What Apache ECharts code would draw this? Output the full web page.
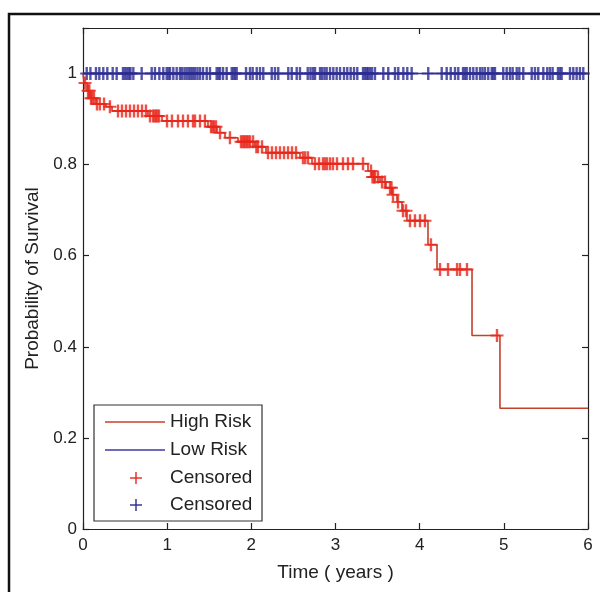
<!DOCTYPE html>
<html><head><meta charset="utf-8">
<script src="https://cdn.jsdelivr.net/npm/echarts@6/dist/echarts.min.js"></script>
<style>html,body{margin:0;padding:0;background:#fff}#c{width:600px;height:592px}</style>
</head><body><div id="c"></div><script>
// High-risk Kaplan-Meier step times and survival after each step
const highTimes = [0, 0.012, 0.048, 0.083, 0.154, 0.273, 0.345, 0.772, 0.939, 1.485, 1.592, 1.687, 1.842, 2.043, 2.174, 2.578, 2.721, 3.386, 3.434, 3.529, 3.600, 3.671, 3.731, 3.790, 3.849, 4.099, 4.206, 4.622, 4.954];
const highSurv  = [1.0, 0.979, 0.962, 0.946, 0.933, 0.927, 0.918, 0.907, 0.896, 0.883, 0.870, 0.859, 0.850, 0.839, 0.826, 0.815, 0.802, 0.786, 0.773, 0.762, 0.749, 0.734, 0.718, 0.699, 0.677, 0.624, 0.570, 0.425, 0.265];
const highEndTime = 6;
// Censored times
const highCensorTimes = [0.024, 0.06, 0.075, 0.095, 0.11, 0.13, 0.166, 0.20, 0.25, 0.32, 0.416, 0.463, 0.511, 0.558, 0.606, 0.653, 0.701, 0.748, 0.796, 0.832, 0.85, 0.867, 0.885, 0.903, 0.998, 1.057, 1.129, 1.188, 1.247, 1.307, 1.331, 1.39, 1.449, 1.521, 1.54, 1.556, 1.58, 1.628, 1.746, 1.877, 1.895, 1.913, 1.93, 1.948, 1.966, 1.984, 2.02, 2.06, 2.079, 2.127, 2.198, 2.245, 2.293, 2.34, 2.388, 2.436, 2.483, 2.531, 2.614, 2.64, 2.673, 2.756, 2.804, 2.851, 2.875, 2.899, 2.935, 2.97, 3.018, 3.089, 3.148, 3.208, 3.327, 3.422, 3.44, 3.457, 3.47, 3.505, 3.553, 3.588, 3.648, 3.665, 3.683, 3.743, 3.802, 3.838, 3.885, 3.944, 4.004, 4.063, 4.134, 4.242, 4.337, 4.444, 4.479, 4.562, 4.919];
const lowTimes = [0, 6];
const lowSurv = [1, 1];
const lowCensorTimes = [0.044, 0.088, 0.154, 0.194, 0.241, 0.289, 0.353, 0.400, 0.475, 0.499, 0.523, 0.547, 0.564, 0.598, 0.697, 0.816, 0.855, 0.907, 0.954, 0.994, 1.016, 1.034, 1.073, 1.113, 1.152, 1.176, 1.206, 1.232, 1.259, 1.283, 1.307, 1.331, 1.360, 1.390, 1.426, 1.470, 1.509, 1.588, 1.610, 1.628, 1.664, 1.707, 1.767, 1.788, 1.806, 1.826, 1.937, 1.984, 2.016, 2.064, 2.103, 2.142, 2.242, 2.281, 2.320, 2.439, 2.480, 2.539, 2.578, 2.670, 2.703, 2.733, 2.757, 2.816, 2.840, 2.869, 2.895, 2.935, 2.974, 3.014, 3.054, 3.101, 3.140, 3.180, 3.220, 3.259, 3.327, 3.350, 3.370, 3.386, 3.410, 3.434, 3.469, 3.568, 3.627, 3.707, 3.746, 3.806, 3.853, 3.905, 4.102, 4.262, 4.321, 4.369, 4.420, 4.459, 4.515, 4.538, 4.559, 4.598, 4.637, 4.677, 4.717, 4.746, 4.776, 4.815, 4.856, 4.875, 4.895, 4.993, 5.034, 5.073, 5.105, 5.153, 5.184, 5.231, 5.331, 5.370, 5.409, 5.469, 5.516, 5.548, 5.580, 5.643, 5.667, 5.687, 5.786, 5.825, 5.865, 5.904, 5.944];
const xTicks = [0, 1, 2, 3, 4, 5, 6];
const yTicks = [0, 0.2, 0.4, 0.6, 0.8, 1];
const legendNames = ['High Risk', 'Low Risk', 'Censored', 'Censored'];

function survAt(times, surv, t) {
  let s = surv[0];
  for (let i = 0; i < times.length; i++) if (times[i] <= t) s = surv[i];
  return s;
}
const highLine = highTimes.map((t, i) => [t, highSurv[i]]);
highLine.push([highEndTime, highSurv[highSurv.length - 1]]);
const lowLine = lowTimes.map((t, i) => [t, lowSurv[i]]);
const highCens = highCensorTimes.map(t => [t, survAt(highTimes, highSurv, t)]);
const lowCens = lowCensorTimes.map(t => [t, survAt(lowTimes, lowSurv, t)]);

const PLUS = 'path://M-1.2,-6.5 L1.2,-6.5 L1.2,-1 L6.5,-1 L6.5,1 L1.2,1 L1.2,6.5 L-1.2,6.5 L-1.2,1 L-6.5,1 L-6.5,-1 L-1.2,-1 Z';
const RED_LINE = '#c4402b', RED_MARK = '#e8261a', BLUE_LINE = '#3a3aa0', BLUE_MARK = '#2a2a92';
const AX = '#222';
const FONT = 'Liberation Sans, Arial, sans-serif';

const chart = echarts.init(document.getElementById('c'));
function axisCommon() {
  return {
    axisLine: { show: true, onZero: false, lineStyle: { color: AX, width: 1.2 } },
    axisTick: { show: true, inside: true, length: 6, lineStyle: { color: AX, width: 1.2 } },
    splitLine: { show: false }
  };
}
const legendX = 94, legendY = 405, legendW = 168, legendH = 116, rowY = [422, 450, 478, 505];
const legendGraphics = [{
  type: 'rect', shape: { x: legendX, y: legendY, width: legendW, height: legendH },
  style: { fill: '#fff', stroke: '#333', lineWidth: 1.2 }, z: 100
}];
const legendColors = [RED_LINE, BLUE_LINE, RED_MARK, BLUE_MARK];
legendNames.forEach((n, i) => {
  if (i < 2) {
    legendGraphics.push({ type: 'line', shape: { x1: 105, y1: rowY[i], x2: 165, y2: rowY[i] },
      style: { stroke: legendColors[i], lineWidth: 1.3 }, z: 101 });
  } else {
    legendGraphics.push({ type: 'group', x: 136, y: rowY[i], z: 101, children: [
      { type: 'line', shape: { x1: -6, y1: 0, x2: 6, y2: 0 }, style: { stroke: legendColors[i], lineWidth: 1.4 }, z: 101 },
      { type: 'line', shape: { x1: 0, y1: -6, x2: 0, y2: 6 }, style: { stroke: legendColors[i], lineWidth: 1.4 }, z: 101 }
    ]});
  }
  legendGraphics.push({ type: 'text', x: 170, y: rowY[i], z: 101,
    style: { text: n, fill: '#222', font: '19px ' + FONT, textVerticalAlign: 'middle', verticalAlign: 'middle' } });
});

chart.setOption({
  animation: false,
  backgroundColor: '#fff',
  grid: { left: 83, right: 12, top: 28, bottom: 63 },
  xAxis: [
    Object.assign({ type: 'value', min: 0, max: 6, interval: 1, position: 'bottom',
      name: 'Time ( years )', nameLocation: 'middle', nameGap: 34,
      nameTextStyle: { fontSize: 19, color: '#222', fontFamily: FONT },
      axisLabel: { fontSize: 17, color: '#222', margin: 8, fontFamily: FONT,
        formatter: v => xTicks.includes(v) ? String(v) : '' } }, axisCommon()),
    Object.assign({ type: 'value', min: 0, max: 6, interval: 1, position: 'top',
      axisLabel: { show: false } }, axisCommon())
  ],
  yAxis: [
    Object.assign({ type: 'value', min: 0, max: 1.1, interval: 0.2, position: 'left',
      name: 'Probability of Survival', nameLocation: 'middle', nameGap: 38,
      nameTextStyle: { fontSize: 19, color: '#222', fontFamily: FONT },
      axisLabel: { fontSize: 17, color: '#222', margin: 6, fontFamily: FONT,
        formatter: v => { const k = yTicks.find(t => Math.abs(t - v) < 1e-6); return k === undefined ? '' : String(k); } } }, axisCommon()),
    Object.assign({ type: 'value', min: 0, max: 1.1, interval: 0.2, position: 'right',
      axisLabel: { show: false } }, axisCommon())
  ],
  series: [
    { name: 'Low Risk', type: 'line', step: 'end', data: lowLine, symbol: 'none',
      lineStyle: { color: BLUE_LINE, width: 1.4 }, z: 2 },
    { name: 'High Risk', type: 'line', step: 'end', data: highLine, symbol: 'none',
      lineStyle: { color: RED_LINE, width: 1.6 }, z: 3 },
    { name: 'Censored Low', type: 'scatter', data: lowCens, symbol: PLUS, symbolSize: 13,
      itemStyle: { color: BLUE_MARK }, z: 4, clip: false },
    { name: 'Censored High', type: 'scatter', data: highCens, symbol: PLUS, symbolSize: 13,
      itemStyle: { color: RED_MARK }, z: 5, clip: false }
  ],
  graphic: [
    { type: 'rect', shape: { x: 9, y: 14, width: 700, height: 700 }, style: { fill: 'none', stroke: '#111', lineWidth: 2.5 }, z: 50 }
  ].concat(legendGraphics)
});
</script></body></html>
